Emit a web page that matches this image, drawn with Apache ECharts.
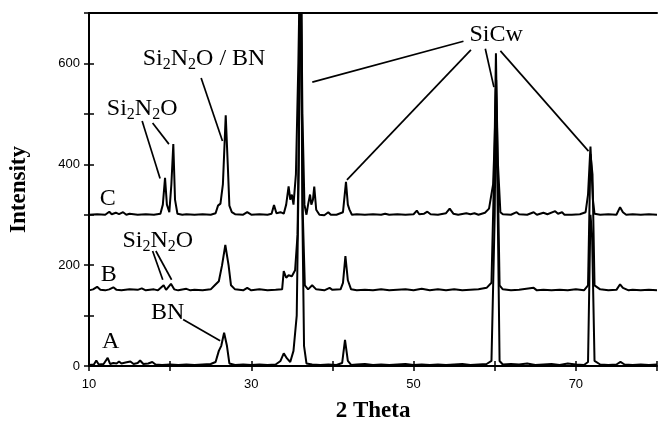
<!DOCTYPE html>
<html><head><meta charset="utf-8">
<script src="https://cdn.jsdelivr.net/npm/echarts@6/dist/echarts.min.js"></script>
<style>html,body{margin:0;padding:0;background:#fff}#c{width:660px;height:428px}</style>
</head><body><div id="c"></div>
<script>
// 2-theta / intensity pairs
const traceA = [[10,2],[10.6,3],[10.9,11],[11.2,3],[11.8,4],[12.3,16],[12.6,4],[13.0,6],[13.4,5],[13.7,9],[14.0,5],[14.5,7],[15.1,9],[15.5,4],[16.0,6],[16.3,11],[16.7,4],[17.3,5],[17.8,8],[18.2,3],[19.0,2],[20.0,3],[21.0,2],[22.0,3],[23.0,2],[24.0,3],[25.0,4],[25.6,8],[26.0,30],[26.3,40],[26.65,66],[27.0,40],[27.3,5],[28.0,2],[29,3],[30,2],[31,3],[32,2],[33,3],[33.6,10],[34.0,25],[34.4,15],[34.8,8],[35.2,30],[35.6,100],[35.85,400],[36.0,760],[36.15,700],[36.3,300],[36.5,40],[36.8,5],[37.5,3],[38.5,2],[39.5,3],[40.5,2],[41.2,6],[41.55,52],[41.9,10],[42.3,2],[43,3],[44,4],[45,2],[46,3],[47,2],[48,3],[49,4],[50,2],[51,3],[52,2],[53,3],[54,2],[55,3],[56,4],[57,2],[58,3],[59,4],[59.6,10],[60.0,300],[60.15,550],[60.3,400],[60.6,10],[61,3],[62,4],[63,3],[64,5],[65,2],[66,3],[67,4],[68,2],[69,5],[70,3],[71,2],[71.5,8],[71.8,300],[72.0,260],[72.3,10],[73,3],[74,2],[75,3],[75.5,8],[76,3],[77,2],[78,3],[79,2],[80,3]];
const traceB = [[10,150],[10.5,152],[11.0,157],[11.4,151],[12,150],[12.5,152],[13.0,156],[13.4,151],[14,150],[15,152],[16,151],[16.5,154],[17,150],[18,152],[18.5,150],[19.2,160],[19.5,151],[20.1,163],[20.5,152],[21,150],[22,153],[22.5,150],[23,151],[24,150],[25,152],[25.5,160],[26.0,168],[26.4,200],[26.8,240],[27.2,200],[27.5,160],[28,152],[29,150],[29.5,155],[30,150],[31,152],[32,150],[33,151],[33.8,152],[34.0,188],[34.3,175],[34.6,180],[35.0,178],[35.4,190],[35.7,260],[35.9,500],[36.0,780],[36.15,720],[36.35,300],[36.6,160],[37,152],[37.5,160],[38,152],[39,150],[39.65,155],[40,151],[41,152],[41.3,165],[41.6,218],[41.9,170],[42.3,152],[43,150],[44,151],[45,150],[46,152],[47,150],[48,151],[49,152],[50,150],[51,153],[52,150],[53,152],[54,150],[55,152],[56,150],[57,151],[58,152],[59,155],[59.6,165],[59.95,400],[60.15,620],[60.35,400],[60.6,160],[61,152],[62,150],[63,151],[64.8,155],[65.2,150],[66,151],[67,150],[68,151],[69,150],[70,152],[71,150],[71.5,160],[71.8,420],[72.05,380],[72.3,160],[73,152],[74,150],[75,151],[75.45,162],[75.8,155],[76.5,150],[77,151],[78,150],[79,151],[80,150]];
const traceC = [[10,300],[11,301],[12,300],[12.5,306],[12.8,301],[13.3,304],[13.7,301],[14.2,305],[14.6,300],[15,302],[16,300],[17,301],[18,300],[18.8,302],[19.1,320],[19.37,373],[19.6,320],[19.9,305],[20.15,360],[20.39,440],[20.6,330],[20.9,302],[21.5,300],[22,301],[23,300],[24,301],[25,300],[25.6,303],[25.9,318],[26.2,322],[26.5,360],[26.85,497],[27.1,400],[27.3,318],[27.6,305],[28,301],[29,300],[29.5,305],[30,300],[31,301],[32,300],[32.5,302],[32.8,319],[33.1,303],[33.6,305],[34.0,302],[34.3,320],[34.6,356],[34.8,330],[35.0,340],[35.2,320],[35.5,380],[35.8,600],[36.0,800],[36.15,760],[36.3,500],[36.55,320],[36.8,300],[37.0,320],[37.24,340],[37.4,320],[37.6,330],[37.76,356],[38.0,310],[38.4,300],[39,299],[39.49,305],[39.8,300],[40.5,300],[41.3,305],[41.67,365],[41.9,320],[42.1,310],[42.4,300],[43,301],[44,300],[45,301],[46,300],[46.5,302],[47,300],[48,301],[49,300],[50,301],[50.4,308],[50.7,301],[51.3,302],[51.7,306],[52.1,301],[53,300],[54.0,303],[54.45,312],[54.9,302],[55.5,300],[56.5,303],[57,301],[57.5,303],[58,300],[58.8,304],[59.3,312],[59.8,360],[60.0,450],[60.18,567],[60.4,400],[60.7,305],[61,301],[62,300],[62.7,305],[63,301],[64,300],[64.8,305],[65.2,300],[66.0,304],[66.5,301],[67.45,307],[67.8,302],[68.3,305],[68.6,300],[69.5,300],[70.5,301],[71.2,305],[71.5,340],[71.8,435],[72.1,330],[72.3,302],[73,300],[74,301],[75,300],[75.45,315],[75.8,305],[76.2,300],[77,301],[78,300],[79,301],[80,300]];

// annotation texts and their anchor points (data coordinates)
const annotTexts = ['Si{s|2}N{s|2}O / BN', 'Si{s|2}N{s|2}O', 'SiCw', 'C', 'B', 'A', 'BN', 'Si{s|2}N{s|2}O'];
const annotPoints = [[24.18,609],[16.55,511],[60.18,656],[12.3,332],[12.42,182],[12.67,49],[19.7,105],[18.48,248]];
// leader lines (data coordinates)
const leaders = [
  [[23.82,571],[26.45,446]],
  [[16.55,486],[18.76,372]],
  [[17.84,482],[19.85,440]],
  [[56.15,644],[37.52,563]],
  [[57.07,627],[41.79,369]],
  [[58.84,629],[59.9,553]],
  [[60.7,625],[71.56,426]],
  [[17.84,228],[19.09,171]],
  [[18.24,228],[20.18,171]],
  [[21.6,92],[26.16,50]]
];
const xTickLabels = [10,30,50,70];
const yTickLabels = [0,200,400,600];

const chart = echarts.init(document.getElementById('c'), null, {renderer:'canvas'});
const serif = 'Liberation Serif';
const sans = 'Liberation Sans';
const lineSeries = (d) => ({type:'line', data:d, showSymbol:false, symbol:'none', clip:true,
  lineStyle:{color:'#000', width:2}, xAxisIndex:0, yAxisIndex:0, animation:false, z:3});

chart.setOption({
  animation:false,
  grid:{left:87, right:-4, top:13, bottom:51, show:false},
  xAxis:[
    {type:'value', min:10, max:80, interval:10, position:'bottom',
     axisLine:{lineStyle:{color:'#000', width:2}}, splitLine:{show:false},
     axisTick:{length:5, lineStyle:{color:'#000', width:1.5}},
     axisLabel:{margin:12, color:'#000', fontFamily:sans, fontSize:13,
       formatter:v => xTickLabels.includes(v) ? String(v) : ''},
     name:'2 Theta', nameLocation:'middle', nameGap:34,
     nameTextStyle:{fontFamily:serif, fontWeight:'bold', fontSize:23, color:'#000'}},
    {type:'value', min:10, max:80, interval:10, position:'bottom',
     axisLine:{show:false}, splitLine:{show:false},
     axisTick:{inside:true, length:5, lineStyle:{color:'#000', width:1.5}}, axisLabel:{show:false}},
    {type:'value', min:10, max:80, position:'top',
     axisLine:{lineStyle:{color:'#000', width:2}}, splitLine:{show:false},
     axisTick:{show:false}, axisLabel:{show:false}}
  ],
  yAxis:[
    {type:'value', min:0, max:700, interval:100, position:'left',
     axisLine:{show:true, lineStyle:{color:'#000', width:2}}, splitLine:{show:false},
     axisTick:{show:true, length:5, lineStyle:{color:'#000', width:1.5}},
     axisLabel:{margin:9, color:'#000', fontFamily:sans, fontSize:13,
       formatter:v => yTickLabels.includes(v) ? String(v) : ''},
     name:'Intensity', nameLocation:'middle', nameGap:58,
     nameTextStyle:{fontFamily:serif, fontWeight:'bold', fontSize:23, color:'#000', padding:[0,0,0,0]}},
    {type:'value', min:0, max:700, interval:100, position:'left',
     axisLine:{show:false}, splitLine:{show:false},
     axisTick:{show:true, inside:true, length:5, lineStyle:{color:'#000', width:1.5}}, axisLabel:{show:false}}
  ],
  series:[
    lineSeries(traceA), lineSeries(traceB), lineSeries(traceC),
    {type:'lines', coordinateSystem:'cartesian2d', xAxisIndex:0, yAxisIndex:0, animation:false, z:4,
     lineStyle:{color:'#000', width:1.7, opacity:1},
     data:leaders.map(c => ({coords:c}))},
    {type:'scatter', xAxisIndex:0, yAxisIndex:0, symbolSize:0, animation:false, z:5, silent:true,
     itemStyle:{opacity:1},
     data:annotPoints.map((p,i) => ({value:p, name:annotTexts[i]})),
     label:{show:true, position:'inside', formatter:p => p.name, opacity:1,
       fontFamily:serif, fontSize:24, color:'#000', lineHeight:26,
       rich:{s:{fontFamily:serif, fontSize:16, color:'#000', padding:[12,0,0,0], lineHeight:26}}}}
  ]
});
</script></body></html>
